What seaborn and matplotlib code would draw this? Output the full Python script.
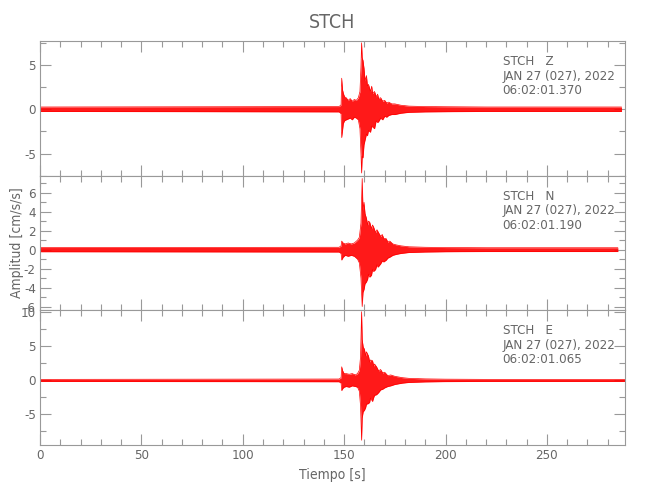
#!/usr/bin/env python3
import matplotlib
matplotlib.use("Agg")
import matplotlib.pyplot as plt
import seaborn as sns
from matplotlib.ticker import MultipleLocator

# envelope of each trace (time in s, amplitude in cm/s/s)
z_time = [0, 147.5, 148.5, 148.8, 149.2, 149.6, 150.2, 151, 152, 153, 154, 155, 156, 157,
          157.8, 158.3, 158.6, 158.9, 159.3, 159.8, 160.3, 161, 161.5, 162, 163, 163.6, 164, 165,
          165.8, 166.5, 167, 168, 169, 170, 171, 172, 173.5, 175, 178, 182, 190, 200, 220, 250, 286.8]
z_upper = [0.25, 0.3, 0.5, 3.5, 2.2, 1.8, 1.4, 1.3, 1.0, 1.2, 0.9, 1.1, 1.0, 1.3,
           2.0, 4.8, 7.5, 5.8, 5.5, 4.6, 3.2, 3.8, 2.6, 2.8, 2.0, 2.6, 1.8, 2.0,
           1.4, 1.7, 1.2, 1.3, 0.9, 1.0, 0.7, 0.8, 0.6, 0.6, 0.45, 0.35, 0.3, 0.28, 0.25, 0.25, 0.25]
z_lower = [-0.25, -0.3, -0.5, -3.2, -2.4, -1.6, -1.3, -1.2, -1.1, -1.0, -1.2, -0.9, -1.0, -1.2,
           -2.2, -5.0, -7.2, -5.3, -5.5, -4.0, -3.5, -2.8, -3.0, -2.4, -2.6, -1.9, -2.0, -2.2,
           -1.3, -1.5, -1.4, -1.0, -1.2, -0.8, -0.9, -0.7, -0.6, -0.6, -0.45, -0.35, -0.3, -0.28, -0.25, -0.25, -0.25]

n_time = [0, 147.5, 148.5, 148.8, 149.5, 150.5, 152, 153.5, 155, 156.6, 157.5, 158.3, 158.9,
          159.3, 159.8, 160.3, 161, 161.6, 162, 162.6, 163.5, 164, 164.5, 165.5, 166.2, 166.7, 168,
          168.8, 169.5, 170.8, 171.5, 172.5, 174, 175.7, 178, 182, 190, 200, 220, 250, 285]
n_upper = [0.22, 0.25, 0.4, 0.9, 0.7, 0.6, 0.7, 0.6, 0.7, 1.0, 1.3, 2.8, 7.5,
           4.1, 5.0, 3.8, 3.3, 2.6, 3.0, 2.9, 2.2, 2.6, 2.4, 1.8, 2.1, 1.9, 1.4,
           1.6, 1.2, 1.15, 0.8, 0.9, 0.6, 0.5, 0.4, 0.3, 0.25, 0.22, 0.2, 0.2, 0.2]
n_lower = [-0.22, -0.25, -0.4, -1.1, -0.8, -0.6, -0.7, -0.6, -0.7, -1.0, -1.4, -3.0, -6.0,
           -4.5, -4.2, -3.6, -3.4, -3.1, -2.6, -2.9, -2.7, -2.1, -2.3, -2.1, -1.6, -1.85, -1.5,
           -1.2, -1.3, -1.1, -0.9, -0.8, -0.6, -0.5, -0.4, -0.3, -0.25, -0.22, -0.2, -0.2, -0.2]

e_time = [0, 147.5, 148.5, 148.8, 149.3, 150, 151, 152.5, 154, 155.5, 156.6, 157.5, 158.1,
          158.6, 158.9, 159.4, 160, 160.6, 161, 162, 162.6, 163, 164, 164.6, 165, 166, 167, 168,
          169, 170, 171.5, 173, 175, 178.7, 182, 190, 200, 220, 250, 288.5]
e_upper = [0.15, 0.2, 0.4, 2.0, 1.4, 1.0, 1.0, 0.9, 1.0, 0.8, 1.0, 1.5, 3.5,
           10.1, 6.0, 4.9, 4.6, 3.6, 4.2, 3.6, 2.7, 3.0, 2.9, 2.1, 2.4, 2.0, 1.4, 1.6,
           1.1, 1.2, 0.7, 0.8, 0.6, 0.4, 0.3, 0.22, 0.18, 0.15, 0.15, 0.15]
e_lower = [-0.15, -0.2, -0.4, -1.5, -1.2, -1.0, -0.9, -1.0, -0.8, -0.9, -1.0, -1.6, -3.8,
           -8.8, -5.5, -4.6, -4.4, -4.0, -3.5, -3.4, -3.2, -2.6, -3.1, -2.5, -2.2, -2.1, -1.8, -1.4,
           -1.3, -1.1, -0.9, -0.8, -0.6, -0.4, -0.3, -0.22, -0.18, -0.15, -0.15, -0.15]

components = ["Z", "N", "E"]
start_times = ["06:02:01.370", "06:02:01.190", "06:02:01.065"]
station = "STCH"
date_label = "JAN 27 (027), 2022"

traces = [(z_time, z_upper, z_lower), (n_time, n_upper, n_lower), (e_time, e_upper, e_lower)]
y_limits = [(-7.5, 7.7), (-6.4, 7.8), (-9.5, 10.3)]
y_steps = [5, 2, 5]
y_minor = [2.5, 1, 2.5]

sns.set_style("ticks")
plt.rcParams["font.family"] = ["DejaVu Sans"]
plt.rcParams["font.stretch"] = "condensed"
plt.rcParams["axes.unicode_minus"] = False
grey = "#666666"
axis_grey = "#999999"

fig, axes = plt.subplots(3, 1, figsize=(6.5, 5), dpi=100, sharex=True)
fig.subplots_adjust(left=0.0615, right=0.9615, top=0.918, bottom=0.11, hspace=0)

for ax, (t, up, lo), comp, t0, ylim, step, minor in zip(
        axes, traces, components, start_times, y_limits, y_steps, y_minor):
    ax.fill_between(t, lo, up, color="#ff0000", alpha=0.9, linewidth=0)
    sns.lineplot(x=t, y=up, ax=ax, color="#ff0000", linewidth=0.5)
    sns.lineplot(x=t, y=lo, ax=ax, color="#ff0000", linewidth=0.5)
    ax.set_xlim(0, 288.5)
    ax.set_ylim(*ylim)
    ax.xaxis.set_major_locator(MultipleLocator(50))
    ax.xaxis.set_minor_locator(MultipleLocator(10))
    ax.yaxis.set_major_locator(MultipleLocator(step))
    ax.yaxis.set_minor_locator(MultipleLocator(minor))
    ax.tick_params(which="both", direction="in", top=True, right=True,
                   color=axis_grey, labelcolor=grey, labelsize=9.5, width=0.8, pad=3)
    ax.tick_params(which="major", length=8)
    ax.tick_params(which="minor", length=4)
    for spine in ax.spines.values():
        spine.set_color(axis_grey)
        spine.set_linewidth(0.8)
    ax.text(0.791, 0.895, f"{station}   {comp}\n{date_label}\n{t0}",
            transform=ax.transAxes, ha="left", va="top", fontsize=9.5,
            color=grey, linespacing=1.15)

axes[0].set_title(station, fontsize=14, color=grey, pad=9)
axes[-1].set_xlabel("Tiempo [s]", fontsize=10, color=grey, labelpad=4)
fig.text(0.026, 0.514, "Amplitud [cm/s/s]", rotation=90, ha="center", va="center",
         fontsize=10, color=grey)

fig.savefig("out.png", dpi=100)
plt.close(fig)
